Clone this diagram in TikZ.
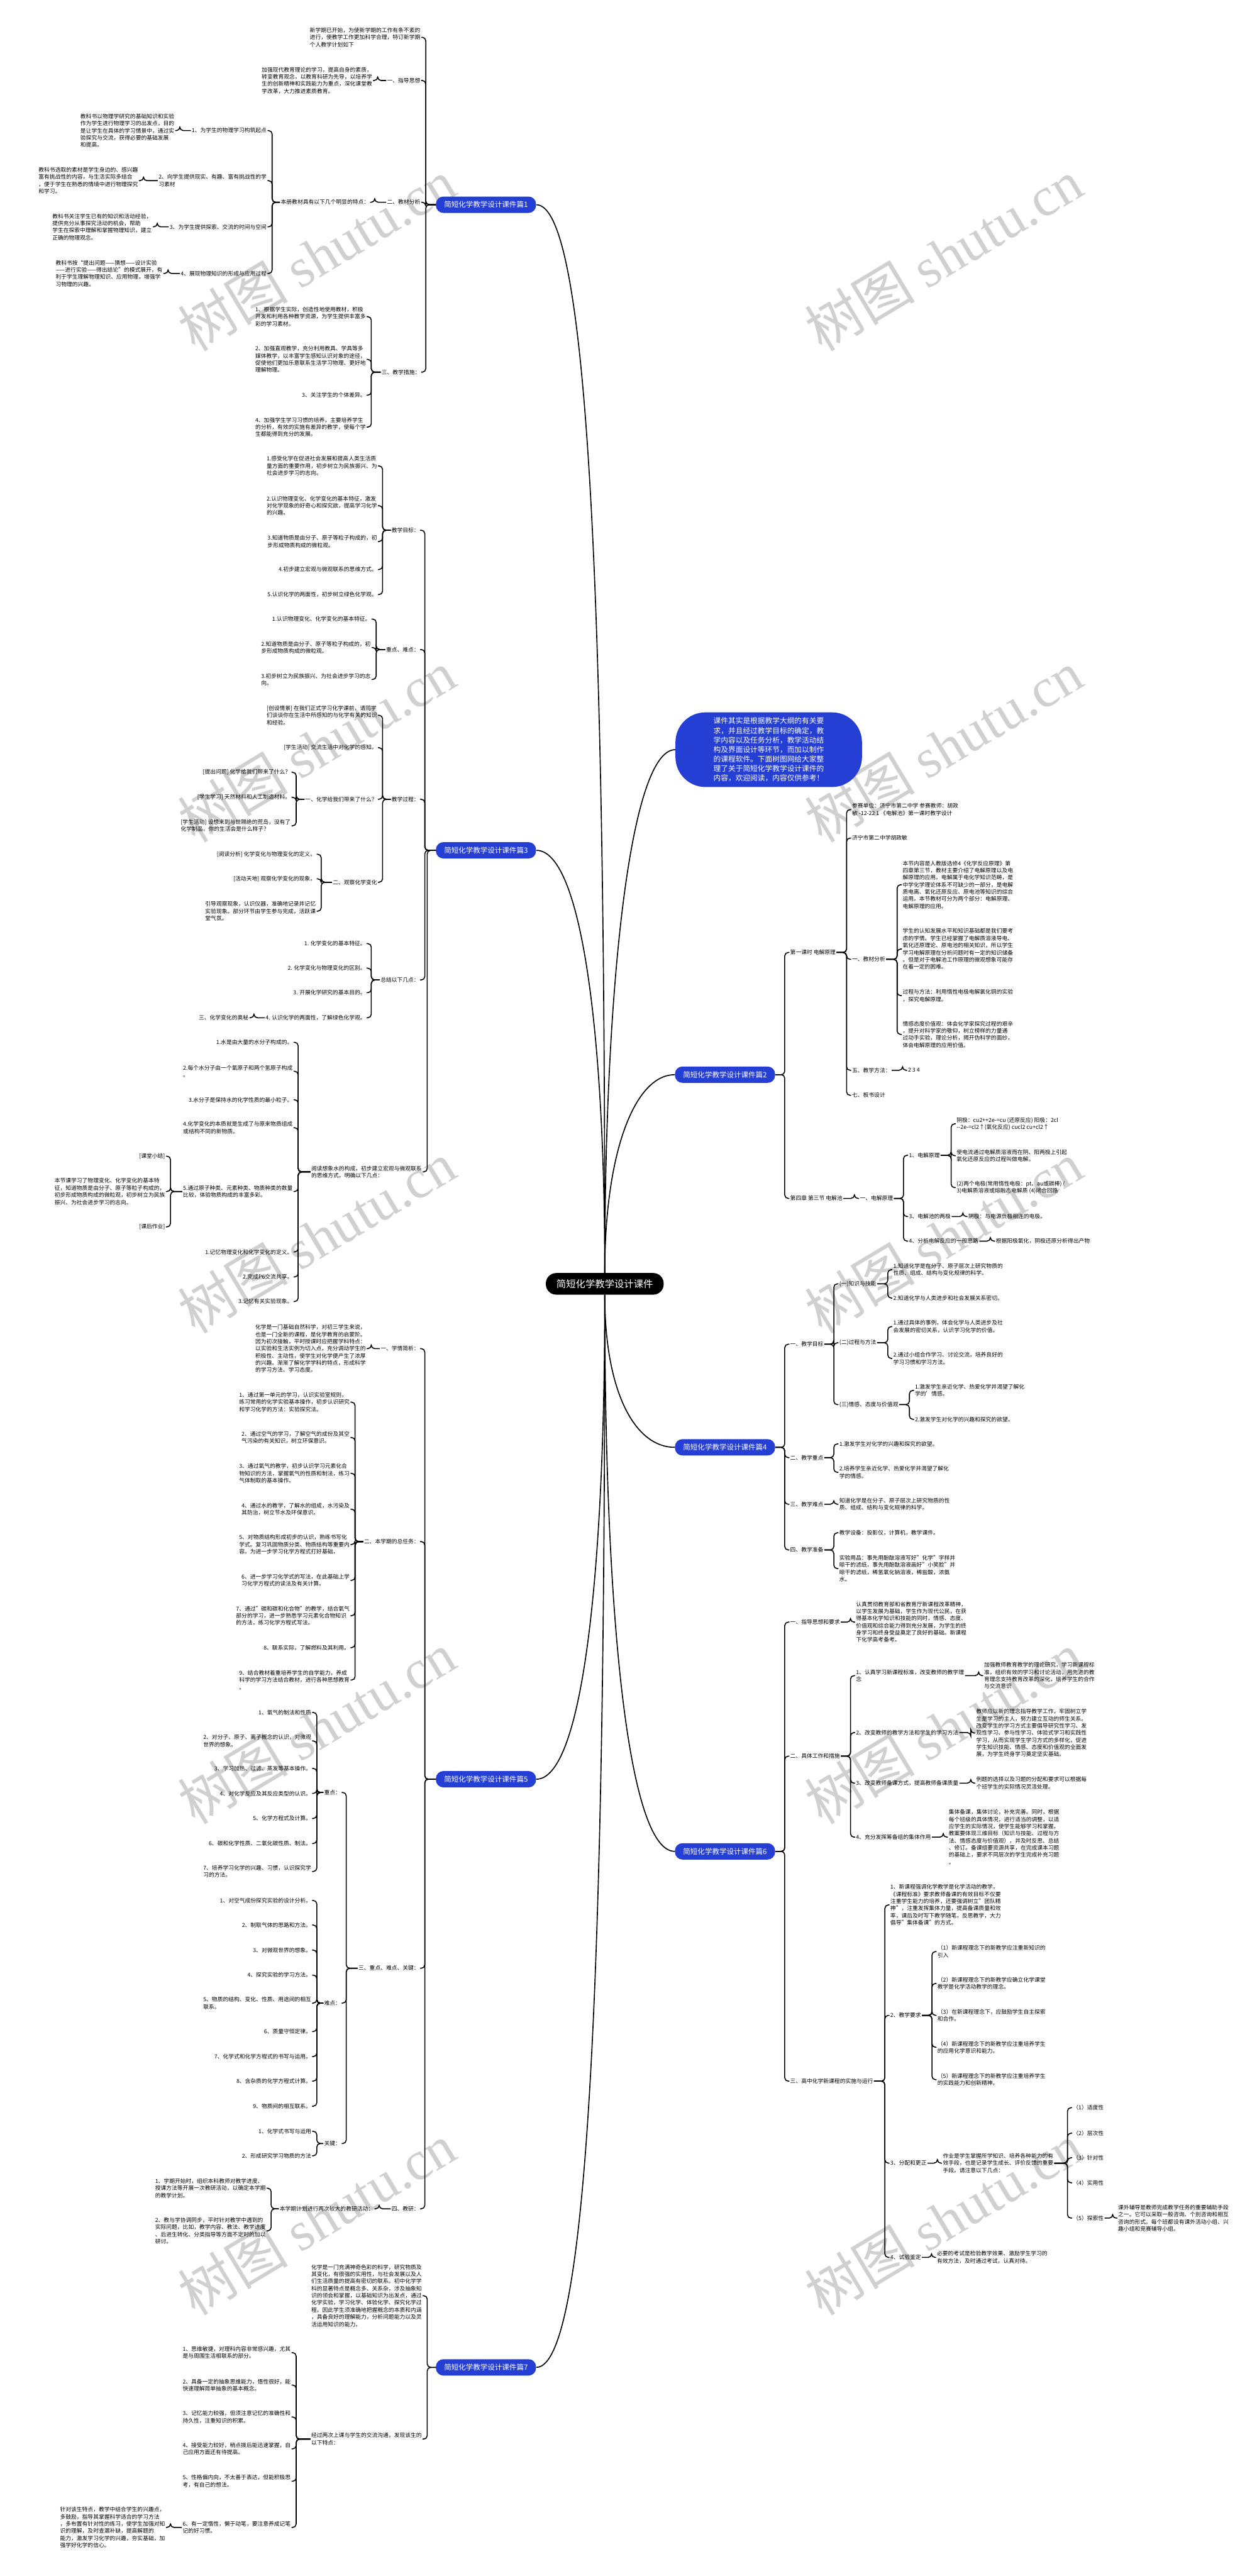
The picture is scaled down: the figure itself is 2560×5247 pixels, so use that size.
\documentclass[tikz,border=0pt]{standalone}
\usepackage{fontspec}
\setmainfont{Noto Sans CJK SC}
\newfontfamily\wmfont{Liberation Serif}
\usepackage{tikz}
\definecolor{pianblue}{RGB}{37,63,212}
\definecolor{markgray}{RGB}{208,208,208}

\begin{document}
\begin{tikzpicture}[
    x=0.015cm, y=-0.015cm,
    rootnode/.style={fill=black, text=white, rounded corners=9pt, minimum width=3.6cm, minimum height=0.66cm, inner sep=2pt, font=\fontsize{8.4}{10}\selectfont},
    piannode/.style={fill=pianblue, text=white, rounded corners=6.5pt, minimum width=3.06cm, minimum height=0.5cm, inner sep=2pt, font=\fontsize{6.3}{7.5}\selectfont},
    intronode/.style={fill=pianblue, text=white, rounded corners=26pt, minimum width=5.7cm, minimum height=2.28cm, align=left, font=\fontsize{6.4}{8.3}\selectfont},
    leafnode/.style={align=left, inner sep=0.6pt, font=\fontsize{4.8}{6.2}\selectfont},
    leftnode/.style={leafnode, anchor=east},
    rightnode/.style={leafnode, anchor=west},
    conn/.style={line width=0.85pt, rounded corners=3pt},
    trunk/.style={line width=0.9pt},
    wmark/.style={text=markgray, rotate=31, font=\fontsize{48}{48}\selectfont}
]
\useasboundingbox (0,0) rectangle (2560,5247);

% Watermarks
\foreach \y [count=\k] in {520,1520,2520,3520,4520} {
    \node[wmark] (wl\k) at (645,\y) {树图 {\wmfont shutu.cn}};
    \node[wmark] (wr\k) at (1922,\y) {树图 {\wmfont shutu.cn}};
}

% Root and branches
\node[rootnode] (root) at (1232,2615) {简短化学教学设计课件};
\node[intronode] (intro) at (1566,1527) {课件其实是根据教学大纲的有关要\\求，并且经过教学目标的确定，教\\学内容以及任务分析，教学活动结\\构及界面设计等环节，而加以制作\\的课程软件。下面树图网给大家整\\理了关于简短化学教学设计课件的\\内容，欢迎阅读，内容仅供参考！};
\node[piannode] (p1) at (990,417) {简短化学教学设计课件篇1};
\node[piannode] (p3) at (990,1732) {简短化学教学设计课件篇3};
\node[piannode] (p5) at (990,3624) {简短化学教学设计课件篇5};
\node[piannode] (p7) at (990,4822) {简短化学教学设计课件篇7};
\node[piannode] (p2) at (1477,2189) {简短化学教学设计课件篇2};
\node[piannode] (p4) at (1477,2948) {简短化学教学设计课件篇4};
\node[piannode] (p6) at (1477,3771) {简短化学教学设计课件篇6};

% Branch 1
\node[leftnode] (p1a) at (858,76) {新学期已开始，为使新学期的工作有条不紊的\\进行，使教学工作更加科学合理，特订新学期\\个人教学计划如下};
\node[leftnode] (p1b) at (858,164) {一、指导思想};
\node[leftnode] (p1c) at (858,412) {二、教材分析};
\node[leftnode] (p1d) at (858,758) {三、教学措施：};
\node[leftnode] (p1ba) at (760,164) {加强现代教育理论的学习，提高自身的素质，\\转变教育观念，以教育科研为先导，以培养学\\生的创新精神和实践能力为重点，深化课堂教\\学改革，大力推进素质教育。};
\node[leftnode] (p1ca) at (754,412) {本册教材具有以下几个明显的特点：};
\node[leftnode] (p1c1) at (545,266) {1、为学生的物理学习构筑起点};
\node[leftnode] (p1c2) at (545,368) {2、向学生提供现实、有趣、富有挑战性的学\\习素材};
\node[leftnode] (p1c3) at (545,462) {3、为学生提供探索、交流的时间与空间};
\node[leftnode] (p1c4) at (545,557) {4、展现物理知识的形成与应用过程};
\node[leftnode] (p1c1a) at (357,266) {教科书以物理学研究的基础知识和实验\\作为学生进行物理学习的出发点，目的\\是让学生在具体的学习情景中，通过实\\验探究与交流，获得必要的基础发展\\和提高。};
\node[leftnode] (p1c2a) at (283,368) {教科书选取的素材是学生身边的、感兴趣\\富有挑战性的内容，与生活实际多结合\\，便于学生在熟悉的情境中进行物理探究\\和学习。};
\node[leftnode] (p1c3a) at (311,462) {教科书关注学生已有的知识和活动经验，\\提供充分从事探究活动的机会，帮助\\学生在探索中理解和掌握物理知识，建立\\正确的物理观念。};
\node[leftnode] (p1c4a) at (333,557) {教科书按“提出问题——猜想——设计实验\\——进行实验——得出结论”的模式展开，有\\利于学生理解物理知识、应用物理，增强学\\习物理的兴趣。};
\node[leftnode] (p1d1) at (747,645) {1、根据学生实际，创造性地使用教材，积极\\开发和利用各种教学资源，为学生提供丰富多\\彩的学习素材。};
\node[leftnode] (p1d2) at (747,732) {2、加强直观教学，充分利用教具、学具等多\\媒体教学，以丰富学生感知认识对象的途径，\\促使他们更加乐意联系生活学习物理、更好地\\理解物理。};
\node[leftnode] (p1d3) at (747,805) {3、关注学生的个体差异。};
\node[leftnode] (p1d4) at (747,870) {4、加强学生学习习惯的培养，主要培养学生\\的分析，有效的实施有差异的教学，使每个学\\生都能得到充分的发展。};

% Branch 3
\node[leftnode] (p3a) at (856,1080) {教学目标：};
\node[leftnode] (p3b) at (856,1323) {重点、难点：};
\node[leftnode] (p3c) at (856,1628) {教学过程：};
\node[leftnode] (p3d) at (856,1996) {总结以下几点：};
\node[leftnode] (p3e) at (861,2387) {阅读想象水的构成，初步建立宏观与微观联系\\的思维方式。明确以下几点：};
\node[leftnode] (p3a1) at (770,949) {1.感受化学在促进社会发展和提高人类生活质\\量方面的重要作用，初步树立为民族振兴、为\\社会进步学习的志向。};
\node[leftnode] (p3a2) at (770,1030) {2.认识物理变化、化学变化的基本特征，激发\\对化学现象的好奇心和探究欲，提高学习化学\\的兴趣。};
\node[leftnode] (p3a3) at (770,1103) {3.知道物质是由分子、原子等粒子构成的，初\\步形成物质构成的微粒观。};
\node[leftnode] (p3a4) at (770,1160) {4.初步建立宏观与微观联系的思维方式。};
\node[leftnode] (p3a5) at (770,1211) {5.认识化学的两面性，初步树立绿色化学观。};
\node[leftnode] (p3b1) at (757,1261) {1.认识物理变化、化学变化的基本特征。};
\node[leftnode] (p3b2) at (757,1319) {2.知道物质是由分子、原子等粒子构成的，初\\步形成物质构成的微粒观。};
\node[leftnode] (p3b3) at (757,1384) {3.初步树立为民族振兴、为社会进步学习的志\\向。};
\node[leftnode] (p3c1) at (770,1457) {[创设情景] 在我们正式学习化学课前，请同学\\们谈谈你在生活中所感知的与化学有关的知识\\和经验。};
\node[leftnode] (p3c2) at (770,1523) {[学生活动] 交流生活中对化学的感知。};
\node[leftnode] (p3c3) at (770,1628) {一、化学给我们带来了什么？};
\node[leftnode] (p3c4) at (770,1797) {二、观察化学变化};
\node[leftnode] (p3c3a) at (594,1573) {[提出问题] 化学给我们带来了什么？};
\node[leftnode] (p3c3b) at (594,1624) {[学生学习] 天然材料和人工制造材料。};
\node[leftnode] (p3c3c) at (594,1682) {[学生活动] 设想来到与世隔绝的荒岛，没有了\\化学制品，你的生活会是什么样子？};
\node[leftnode] (p3c4a) at (645,1740) {[阅读分析] 化学变化与物理变化的定义。};
\node[leftnode] (p3c4b) at (645,1790) {[活动天地] 观察化学变化的现象。};
\node[leftnode] (p3c4c) at (645,1856) {引导观察现象，认识仪器，准确地记录并记忆\\实验现象。部分环节由学生参与完成，活跃课\\堂气氛。};
\node[leftnode] (p3d1) at (747,1922) {1. 化学变化的基本特征。};
\node[leftnode] (p3d2) at (747,1972) {2. 化学变化与物理变化的区别。};
\node[leftnode] (p3d3) at (747,2022) {3. 开展化学研究的基本目的。};
\node[leftnode] (p3d4) at (747,2073) {4. 认识化学的两面性，了解绿色化学观。};
\node[leftnode] (p3d4a) at (508,2073) {三、化学变化的奥秘};
\node[leftnode] (p3e1) at (598,2123) {1.水是由大量的水分子构成的。};
\node[leftnode] (p3e2) at (598,2182) {2.每个水分子由一个氧原子和两个氢原子构成\\。};
\node[leftnode] (p3e3) at (598,2240) {3.水分子是保持水的化学性质的最小粒子。};
\node[leftnode] (p3e4) at (598,2297) {4.化学变化的本质就是生成了与原来物质组成\\或结构不同的新物质。};
\node[leftnode] (p3e5) at (598,2427) {5.通过原子种类、元素种类、物质种类的数量\\比较，体验物质构成的丰富多彩。};
\node[leftnode] (p3e6) at (598,2550) {1.记忆物理变化和化学变化的定义。};
\node[leftnode] (p3e7) at (598,2601) {2.完成P6交流共享。};
\node[leftnode] (p3e8) at (598,2651) {3.记忆有关实验现象。};
\node[leftnode] (p3e5a) at (338,2355) {[课堂小结]};
\node[leftnode] (p3e5b) at (338,2427) {本节课学习了物理变化、化学变化的基本特\\征，知道物质是由分子、原子等粒子构成的，\\初步形成物质构成的微粒观，初步树立为民族\\振兴、为社会进步学习的志向。};
\node[leftnode] (p3e5c) at (338,2499) {[课后作业]};

% Branch 5
\node[leftnode] (p5a) at (856,2747) {一、学情简析：};
\node[leftnode] (p5b) at (856,3140) {二、本学期的总任务：};
\node[leftnode] (p5c) at (856,4009) {三、重点、难点、关键：};
\node[leftnode] (p5d) at (856,4499) {四、教研：};
\node[leftnode] (p5aa) at (747,2747) {化学是一门基础自然科学，对初三学生来说，\\也是一门全新的课程，是化学教育的启蒙阶。\\因为初次接触，平时授课时应把握学科特点：\\以实验和生活实例为切入点，充分调动学生的\\积极性、主动性，使学生对化学便产生了浓厚\\的兴趣。渐渐了解化学学科的特点，形成科学\\的学习方法、学习态度。};
\node[leftnode] (p5b1) at (714,2856) {1、通过第一单元的学习，认识实验室规则，\\练习常用的化学实验基本操作，初步认识研究\\和学习化学的方法：实验探究法。};
\node[leftnode] (p5b2) at (714,2928) {2、通过空气的学习，了解空气的成份及其空\\气污染的有关知识，树立环保意识。};
\node[leftnode] (p5b3) at (714,3001) {3、通过氧气的教学，初步认识学习元素化合\\物知识的方法，掌握氧气的性质和制法，练习\\气体制取的基本操作。};
\node[leftnode] (p5b4) at (714,3074) {4、通过水的教学，了解水的组成，水污染及\\其防治，树立节水及环保意识。};
\node[leftnode] (p5b5) at (714,3146) {5、对物质结构形成初步的认识，熟练书写化\\学式。复习巩固物质分类、物质结构等重要内\\容。为进一步学习化学方程式打好基础，};
\node[leftnode] (p5b6) at (714,3219) {6、进一步学习化学式的写法，在此基础上学\\习化学方程式的读法及有关计算。};
\node[leftnode] (p5b7) at (714,3291) {7、通过"碳和碳和化合物"的教学，结合氧气\\部分的学习，进一步熟悉学习元素化合物知识\\的方法，练习化学方程式写法。};
\node[leftnode] (p5b8) at (714,3356) {8、联系实际，了解燃料及其利用。};
\node[leftnode] (p5b9) at (714,3422) {9、结合教材着重培养学生的自学能力，养成\\科学的学习方法结合教材，进行各种思想教育\\。};
\node[leftnode] (p5c1) at (696,3651) {重点：};
\node[leftnode] (p5c2) at (696,4080) {难点：};
\node[leftnode] (p5c3) at (696,4366) {关键：};
\node[leftnode] (p5c1a) at (636,3488) {1、氧气的制法和性质};
\node[leftnode] (p5c1b) at (636,3546) {2、对分子、原子、离子概念的认识，对微观\\世界的想象。};
\node[leftnode] (p5c1c) at (636,3602) {3、学习加热、过滤、蒸发等基本操作。};
\node[leftnode] (p5c1d) at (636,3653) {4、对化学反应及其反应类型的认识。};
\node[leftnode] (p5c1e) at (636,3704) {5、化学方程式及计算。};
\node[leftnode] (p5c1f) at (636,3755) {6、碳和化学性质、二氧化碳性质、制法。};
\node[leftnode] (p5c1g) at (636,3812) {7、培养学习化学的兴趣、习惯，认识探究学\\习的方法。};
\node[leftnode] (p5c2a) at (636,3871) {1、对空气成份探究实验的设计分析。};
\node[leftnode] (p5c2b) at (636,3921) {2、制取气体的思路和方法。};
\node[leftnode] (p5c2c) at (636,3972) {3、对微观世界的想象。};
\node[leftnode] (p5c2d) at (636,4023) {4、探究实验的学习方法。};
\node[leftnode] (p5c2e) at (636,4080) {5、物质的结构、变化、性质、用途间的相互\\联系。};
\node[leftnode] (p5c2f) at (636,4138) {6、质量守恒定律。};
\node[leftnode] (p5c2g) at (636,4189) {7、化学式和化学方程式的书写与运用。};
\node[leftnode] (p5c2h) at (636,4239) {8、含杂质的化学方程式计算。};
\node[leftnode] (p5c2i) at (636,4290) {9、物质间的相互联系。};
\node[leftnode] (p5c3a) at (636,4341) {1、化学式书写与运用};
\node[leftnode] (p5c3b) at (636,4391) {2、形成研究学习物质的方法};
\node[leftnode] (p5da) at (763,4499) {本学期计划进行两次较大的教研活动：};
\node[leftnode] (p5da1) at (543,4457) {1、学期开始时，组织本科教师对教学进度、\\授课方法等开展一次教研活动，以确定本学期\\的教学计划。};
\node[leftnode] (p5da2) at (543,4544) {2、教与学协调同步，平时针对教学中遇到的\\实际问题，比如，教学内容、教法、教学进度\\、后进生转化、分类指导等方面不定时的加以\\研讨。};

% Branch 7
\node[leftnode] (p7a) at (861,4676) {化学是一门充满神奇色彩的科学，研究物质及\\其变化，有很强的实用性，与社会发展以及人\\们生活质量的提高有密切的联系。初中化学学\\科的显著特点是概念多、关系杂，涉及抽象知\\识的领会和掌握，以基础知识为出发点，通过\\化学实验，学习化学、体验化学、探究化学过\\程。因此学生须准确地把握概念的本质和内涵\\，具备良好的理解能力，分析问题能力以及灵\\活运用知识的能力。};
\node[leftnode] (p7b) at (861,4968) {经过两次上课与学生的交流沟通，发现该生的\\以下特点：};
\node[leftnode] (p7b1) at (594,4792) {1、思维敏捷，对理科内容非常感兴趣，尤其\\是与周围生活相联系的部分。};
\node[leftnode] (p7b2) at (594,4858) {2、具备一定的抽象思维能力，悟性很好，能\\快速理解简单抽象的基本概念。};
\node[leftnode] (p7b3) at (594,4923) {3、记忆能力较强，但须注意记忆的准确性和\\持久性，注重知识的积累。};
\node[leftnode] (p7b4) at (594,4988) {4、接受能力较好，稍点拨后能迅速掌握，自\\己应用方面还有待提高。};
\node[leftnode] (p7b5) at (594,5054) {5、性格偏内向，不太善于表达，但能积极思\\考，有自己的想法。};
\node[leftnode] (p7b6) at (594,5148) {6、有一定惰性，懒于动笔，要注意养成记笔\\记的好习惯。};
\node[leftnode] (p7b6a) at (338,5148) {针对该生特点，教学中结合学生的兴趣点，\\多鼓励，指导其掌握科学适合的学习方法\\，多布置有针对性的练习，使学生加强对知\\识的理解，及时查漏补缺，提高解题的\\能力，激发学习化学的兴趣，夯实基础，加\\强学好化学的信心。};

% Branch 2
\node[rightnode] (p2a) at (1608,1940) {第一课时 电解原理};
\node[rightnode] (p2b) at (1608,2441) {第四章 第三节 电解池};
\node[rightnode] (p2a1) at (1734,1649) {参赛单位：济宁市第二中学 参赛教师：胡政\\敏 -12-22 1 《电解池》第一课时教学设计};
\node[rightnode] (p2a2) at (1734,1707) {济宁市第二中学胡政敏};
\node[rightnode] (p2a3) at (1734,1954) {一、教材分析};
\node[rightnode] (p2a4) at (1734,2180) {五、教学方法：};
\node[rightnode] (p2a5) at (1734,2231) {七、板书设计};
\node[rightnode] (p2a3a) at (1837,1802) {本节内容是人教版选修4《化学反应原理》第\\四章第三节，教材主要介绍了电解原理以及电\\解原理的应用。电解属于电化学知识范畴，是\\中学化学理论体系不可缺少的一部分，是电解\\质电离、氧化还原反应、原电池等知识的综合\\运用。本节教材可分为两个部分：电解原理、\\电解原理的应用。};
\node[rightnode] (p2a3b) at (1837,1933) {学生的认知发展水平和知识基础都是我们要考\\虑的学情。学生已经掌握了电解质溶液导电、\\氧化还原理论、原电池的相关知识，所以学生\\学习电解原理在分析问题时有一定的知识储备\\。但是对于电解池工作原理的微观想象可能存\\在着一定的困难。};
\node[rightnode] (p2a3c) at (1837,2028) {过程与方法：利用惰性电极电解氯化铜的实验\\，探究电解原理。};
\node[rightnode] (p2a3d) at (1837,2107) {情感态度价值观：体会化学家探究过程的艰辛\\，提升对科学家的敬仰，树立榜样的力量通\\过动手实验，理论分析，揭开伪科学的面纱，\\体会电解原理的应用价值。};
\node[rightnode] (p2a4a) at (1848,2180) {2 3 4};
\node[rightnode] (p2ba) at (1750,2441) {一、电解原理};
\node[rightnode] (p2b1) at (1850,2353) {1、电解原理};
\node[rightnode] (p2b2) at (1850,2478) {3、电解池的两极};
\node[rightnode] (p2b3) at (1850,2528) {4、分析电解反应的一般思路};
\node[rightnode] (p2b1a) at (1947,2289) {阴极：cu2++2e-=cu (还原反应) 阳极：2cl\\-{}-2e-=cl2↑(氧化反应) cucl2 cu+cl2↑};
\node[rightnode] (p2b1b) at (1947,2354) {使电流通过电解质溶液而在阴、阳两极上引起\\氧化还原反应的过程叫做电解。};
\node[rightnode] (p2b1c) at (1947,2419) {(2)两个电极(常用惰性电极：pt、au或碳棒) (\\3)电解质溶液或熔融态电解质 (4)闭合回路};
\node[rightnode] (p2b2a) at (1971,2478) {阴极：与电源负极相连的电极。};
\node[rightnode] (p2b3a) at (2027,2528) {根据阳极氧化，阴极还原分析得出产物};

% Branch 4
\node[rightnode] (p4a) at (1608,2738) {一、教学目标};
\node[rightnode] (p4b) at (1608,2969) {二、教学重点};
\node[rightnode] (p4c) at (1608,3064) {三、教学难点};
\node[rightnode] (p4d) at (1608,3157) {四、教学准备};
\node[rightnode] (p4a1) at (1708,2615) {(一)知识与技能};
\node[rightnode] (p4a2) at (1708,2735) {(二)过程与方法};
\node[rightnode] (p4a3) at (1708,2861) {(三)情感、态度与价值观};
\node[rightnode] (p4a1a) at (1818,2586) {1.知道化学是在分子、原子层次上研究物质的\\性质、组成、结构与变化规律的科学。};
\node[rightnode] (p4a1b) at (1818,2644) {2.知道化学与人类进步和社会发展关系密切。};
\node[rightnode] (p4a2a) at (1818,2702) {1.通过具体的事例，体会化学与人类进步及社\\会发展的密切关系，认识学习化学的价值。};
\node[rightnode] (p4a2b) at (1818,2767) {2.通过小组合作学习、讨论交流，培养良好的\\学习习惯和学习方法。};
\node[rightnode] (p4a3a) at (1862,2832) {1.激发学生亲近化学、热爱化学并渴望了解化\\学的'情感。};
\node[rightnode] (p4a3b) at (1862,2891) {2.激发学生对化学的兴趣和探究的欲望。};
\node[rightnode] (p4b1) at (1708,2941) {1.激发学生对化学的兴趣和探究的欲望。};
\node[rightnode] (p4b2) at (1708,2999) {2.培养学生亲近化学、热爱化学并渴望了解化\\学的情感。};
\node[rightnode] (p4c1) at (1708,3064) {知道化学是在分子、原子层次上研究物质的性\\质、组成、结构与变化规律的科学。};
\node[rightnode] (p4d1) at (1708,3122) {教学设备：投影仪，计算机，教学课件。};
\node[rightnode] (p4d2) at (1708,3195) {实验用品：事先用酚酞溶液写好"化学"字样并\\晾干的滤纸，事先用酚酞溶液画好"小笑脸"并\\晾干的滤纸，稀氢氧化钠溶液，稀盐酸，浓氨\\水。};

% Branch 6
\node[rightnode] (p6a) at (1608,3304) {一、指导思想和要求};
\node[rightnode] (p6b) at (1608,3577) {二、具体工作和措施};
\node[rightnode] (p6c) at (1608,4239) {三、高中化学新课程的实施与运行};
\node[rightnode] (p6aa) at (1742,3304) {认真贯彻教育部和省教育厅新课程改革精神，\\以学生发展为基础，学生作为现代公民，在获\\得基本化学知识和技能的同时，情感、态度、\\价值观和综合能力得到充分发展，为学生的终\\身学习和终身受益奠定了良好的基础。新课程\\下化学高考备考。};
\node[rightnode] (p6b1) at (1742,3413) {1、认真学习新课程标准，改变教师的教学理\\念};
\node[rightnode] (p6b2) at (1742,3529) {2、改变教师的教学方法和学生的学习方法};
\node[rightnode] (p6b3) at (1742,3632) {3、改变教师备课方式，提高教师备课质量};
\node[rightnode] (p6b4) at (1742,3742) {4、充分发挥筹备组的集体作用};
\node[rightnode] (p6b1a) at (2003,3413) {加强教师教育教学的理论研究，学习新课程标\\准，组织有效的学习和讨论活动，用先进的教\\育理念支持教育改革的深化，培养学生的合作\\与交流意识};
\node[rightnode] (p6b2a) at (1987,3530) {教师应以新的理念指导教学工作，牢固树立学\\生是学习的主人，努力建立互动的师生关系。\\改变学生的学习方式主要倡导研究性学习、发\\现性学习、参与性学习、体验式学习和实践性\\学习，从而实现学生学习方式的多样化，促进\\学生知识技能、情感、态度和价值观的全面发\\展，为学生终身学习奠定坚实基础。};
\node[rightnode] (p6b3a) at (1987,3632) {例题的选择以及习题的分配和要求可以根据每\\个班学生的实际情况灵活处理。};
\node[rightnode] (p6b4a) at (1931,3742) {集体备课，集体讨论，补充完善。同时，根据\\每个班级的具体情况，进行适当的调整，以适\\应学生的实际情况，使学生能够学习和掌握。\\教案要体现三维目标（知识与技能、过程与方\\法、情感态度与价值观），并及时反思、总结\\、修订。备课组要资源共享，在完成课本习题\\的基础上，要求不同层次的学生完成补充习题\\。};
\node[rightnode] (p6c1) at (1812,3880) {1、新课程强调化学教学是化学活动的教学，\\《课程标准》要求教师备课的有效目标不仅要\\注重学生能力的培养，还要强调树立"团队精\\神"，注重发挥集体力量，提高备课质量和效\\率，课后及时写下教学随笔，反思教学，大力\\倡导"集体备课"的方式。};
\node[rightnode] (p6c2) at (1812,4105) {2、教学要求};
\node[rightnode] (p6c3) at (1812,4406) {3、分配和更正};
\node[rightnode] (p6c4) at (1812,4598) {4、试验鉴定};
\node[rightnode] (p6c2a) at (1908,3975) {（1）新课程理念下的新教学应注重新知识的\\引入};
\node[rightnode] (p6c2b) at (1908,4040) {（2）新课程理念下的新教学应确立化学课堂\\教学是化学活动教学的理念。};
\node[rightnode] (p6c2c) at (1908,4105) {（3）在新课程理念下，应鼓励学生自主探索\\和合作。};
\node[rightnode] (p6c2d) at (1908,4170) {（4）新课程理念下的新教学应注重培养学生\\的应用化学意识和能力。};
\node[rightnode] (p6c2e) at (1908,4236) {（5）新课程理念下的新教学应注重培养学生\\的实践能力和创新精神。};
\node[rightnode] (p6c3a) at (1919,4406) {作业是学生掌握所学知识、培养各种能力的有\\效手段，也是记录学生成长、评价反馈的重要\\手段。请注意以下几点：};
\node[rightnode] (p6c3a1) at (2184,4293) {（1）适度性};
\node[rightnode] (p6c3a2) at (2184,4345) {（2）层次性};
\node[rightnode] (p6c3a3) at (2184,4395) {（3）针对性};
\node[rightnode] (p6c3a4) at (2184,4446) {（4）实用性};
\node[rightnode] (p6c3a5) at (2184,4518) {（5）探索性};
\node[rightnode] (p6c3a5a) at (2276,4518) {课外辅导是教师完成教学任务的重要辅助手段\\之一。它可以采取一般咨询、个别咨询和相互\\咨询的形式。每个班都设有课外活动小组、兴\\趣小组和竞赛辅导小组。};
\node[rightnode] (p6c4a) at (1907,4598) {必要的考试是检验教学效果、激励学生学习的\\有效方法，及时通过考试，认真对待。};

% Connections: root -> branches
\draw[trunk] (root.north) .. controls +(0,-1300) and +(110,0) .. (p1.east);
\draw[trunk] (root.north) .. controls +(0,-500) and +(90,0) .. (p3.east);
\draw[trunk] (root.north) .. controls +(0,-600) and +(-90,0) .. (intro.west);
\draw[trunk] (root.north) .. controls +(0,-250) and +(-80,0) .. (p2.west);
\draw[trunk] (root.south) .. controls +(0,200) and +(-80,0) .. (p4.west);
\draw[trunk] (root.south) .. controls +(0,700) and +(-90,0) .. (p6.west);
\draw[trunk] (root.south) .. controls +(0,600) and +(90,0) .. (p5.east);
\draw[trunk] (root.south) .. controls +(0,1300) and +(110,0) .. (p7.east);

% Connections: left side
\foreach \p/\cs in {p1/{p1a,p1b,p1c,p1d}, p1b/{p1ba}, p1c/{p1ca}, p1ca/{p1c1,p1c2,p1c3,p1c4},
        p1c1/{p1c1a}, p1c2/{p1c2a}, p1c3/{p1c3a}, p1c4/{p1c4a}, p1d/{p1d1,p1d2,p1d3,p1d4},
        p3/{p3a,p3b,p3c,p3d,p3e}, p3a/{p3a1,p3a2,p3a3,p3a4,p3a5}, p3b/{p3b1,p3b2,p3b3},
        p3c/{p3c1,p3c2,p3c3,p3c4}, p3c3/{p3c3a,p3c3b,p3c3c}, p3c4/{p3c4a,p3c4b,p3c4c},
        p3d/{p3d1,p3d2,p3d3,p3d4}, p3d4/{p3d4a}, p3e/{p3e1,p3e2,p3e3,p3e4,p3e5,p3e6,p3e7,p3e8},
        p3e5/{p3e5a,p3e5b,p3e5c},
        p5/{p5a,p5b,p5c,p5d}, p5a/{p5aa}, p5b/{p5b1,p5b2,p5b3,p5b4,p5b5,p5b6,p5b7,p5b8,p5b9},
        p5c/{p5c1,p5c2,p5c3}, p5c1/{p5c1a,p5c1b,p5c1c,p5c1d,p5c1e,p5c1f,p5c1g},
        p5c2/{p5c2a,p5c2b,p5c2c,p5c2d,p5c2e,p5c2f,p5c2g,p5c2h,p5c2i}, p5c3/{p5c3a,p5c3b},
        p5d/{p5da}, p5da/{p5da1,p5da2},
        p7/{p7a,p7b}, p7b/{p7b1,p7b2,p7b3,p7b4,p7b5,p7b6}, p7b6/{p7b6a}}
    \foreach \c in \cs
        \draw[conn] (\p.west) -| ([xshift=4pt]\c.east) -- (\c.east);

% Connections: right side
\foreach \p/\cs in {p2/{p2a,p2b}, p2a/{p2a1,p2a2,p2a3,p2a4,p2a5}, p2a3/{p2a3a,p2a3b,p2a3c,p2a3d},
        p2a4/{p2a4a}, p2b/{p2ba}, p2ba/{p2b1,p2b2,p2b3}, p2b1/{p2b1a,p2b1b,p2b1c},
        p2b2/{p2b2a}, p2b3/{p2b3a},
        p4/{p4a,p4b,p4c,p4d}, p4a/{p4a1,p4a2,p4a3}, p4a1/{p4a1a,p4a1b}, p4a2/{p4a2a,p4a2b},
        p4a3/{p4a3a,p4a3b}, p4b/{p4b1,p4b2}, p4c/{p4c1}, p4d/{p4d1,p4d2},
        p6/{p6a,p6b,p6c}, p6a/{p6aa}, p6b/{p6b1,p6b2,p6b3,p6b4}, p6b1/{p6b1a}, p6b2/{p6b2a},
        p6b3/{p6b3a}, p6b4/{p6b4a}, p6c/{p6c1,p6c2,p6c3,p6c4},
        p6c2/{p6c2a,p6c2b,p6c2c,p6c2d,p6c2e}, p6c3/{p6c3a},
        p6c3a/{p6c3a1,p6c3a2,p6c3a3,p6c3a4,p6c3a5}, p6c3a5/{p6c3a5a}, p6c4/{p6c4a}}
    \foreach \c in \cs
        \draw[conn] (\p.east) -| ([xshift=-4pt]\c.west) -- (\c.west);

\end{tikzpicture}
\end{document}
